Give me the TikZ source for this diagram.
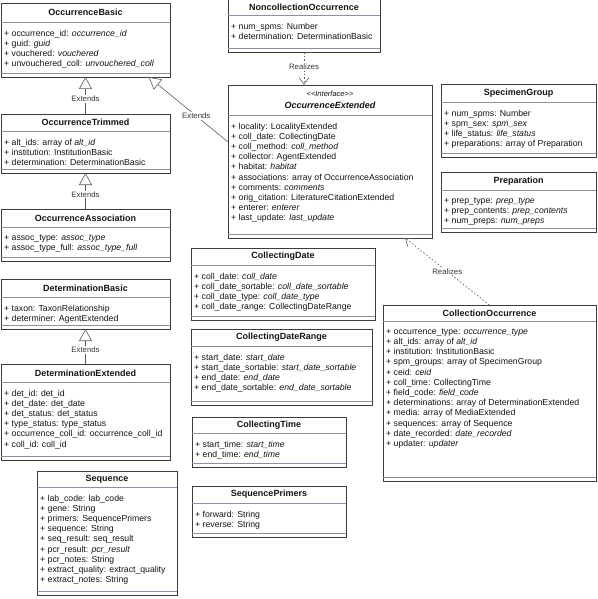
\documentclass[tikz,border=0pt]{standalone}
\usepackage{fontspec}
\setmainfont{Liberation Sans}
\usetikzlibrary{arrows.meta,calc}
\pgfdeclarelayer{background}
\pgfsetlayers{background,main}
\definecolor{umlpurple}{RGB}{224,198,248}
\definecolor{umlborder}{RGB}{60,60,60}
\definecolor{umlsep}{RGB}{150,140,160}
\definecolor{umltext}{RGB}{20,20,20}
\definecolor{umlline}{RGB}{90,90,90}
\definecolor{umlshadow}{RGB}{165,165,165}

% #1 name, #2 x1, #3 y1, #4 x2, #5 y2, #6 title, #7 title height, #8 attributes
\newcommand{\umlbox}[8]{%
  \begin{pgfonlayer}{background}
    \fill[umlshadow] (#2+1.2,#3+1.2) rectangle (#4+1.2,#5+1.2);
    \shade[top color=white,bottom color=umlpurple!70] (#2,#3) rectangle (#4,#3+#7);
    \shade[top color=white,bottom color=umlpurple] (#2,#3+#7) rectangle (#4,#5);
  \end{pgfonlayer}
  \node[classbox, anchor=north west, minimum width={#4-#2}, minimum height={#5-#3}] (#1) at (#2,#3) {};
  \draw[sepline] (#2,#3+#7) -- (#4,#3+#7);
  \draw[sepline] (#2,#5-4) -- (#4,#5-4);
  \node[classtitle] (#1-title) at ({(#2+#4)/2},{#3+#7/2}) {#6};
  \node[classattrs, anchor=north west] (#1-attrs) at (#2+3,#3+#7+7.5) {#8};
}

\begin{document}
\begin{tikzpicture}[x=1pt,y=-1pt,
  classbox/.style={draw=umlborder, line width=0.7pt, inner sep=0pt, outer sep=0pt},
  sepline/.style={draw=umlsep, line width=0.5pt},
  classtitle/.style={font=\fontsize{9}{10}\selectfont\bfseries, text=umltext, inner sep=0pt, align=center},
  classattrs/.style={font=\fontsize{8.7}{10.2}\selectfont, text=umltext, inner sep=0pt, align=left},
  edgelabel/.style={font=\fontsize{7.8}{9}\selectfont, text=umltext!85, fill=white, inner sep=1pt},
  extends/.style={draw=umlline, line width=0.6pt, -{Triangle[length=12pt,width=13pt,fill=white]}},
  realizes/.style={draw=umlline, line width=0.6pt, dash pattern=on 1.6pt off 2pt, -{Straight Barb[length=7pt,width=10pt]}}
]
\useasboundingbox (0,0) rectangle (597,599);
\fill[white] (0,0) rectangle (597,599);

\umlbox{ob}{1}{3}{170}{77}{OccurrenceBasic}{19}{%
+ occurrence\_id: \textit{occurrence\_id}\\
+ guid: \textit{guid}\\
+ vouchered: \textit{vouchered}\\
+ unvouchered\_coll: \textit{unvouchered\_coll}}

\umlbox{otr}{1}{114}{170}{173}{OccurrenceTrimmed}{17}{%
+ alt\_ids: array of \textit{alt\_id}\\
+ institution: InstitutionBasic\\
+ determination: DeterminationBasic}

\umlbox{oa}{1}{209}{170}{261}{OccurrenceAssociation}{18}{%
+ assoc\_type: \textit{assoc\_type}\\
+ assoc\_type\_full: \textit{assoc\_type\_full}}

\umlbox{db}{1}{279}{170}{329}{DeterminationBasic}{18}{%
+ taxon: TaxonRelationship\\
+ determiner: AgentExtended}

\umlbox{de}{1}{364}{170}{460}{DeterminationExtended}{18}{%
+ det\_id: det\_id\\
+ det\_date: det\_date\\
+ det\_status: det\_status\\
+ type\_status: type\_status\\
+ occurrence\_coll\_id: occurrence\_coll\_id\\
+ coll\_id: coll\_id}

\umlbox{seq}{37}{471}{177}{595}{Sequence}{16}{%
+ lab\_code: lab\_code\\
+ gene: String\\
+ primers: SequencePrimers\\
+ sequence: String\\
+ seq\_result: seq\_result\\
+ pcr\_result: \textit{pcr\_result}\\
+ pcr\_notes: String\\
+ extract\_quality: extract\_quality\\
+ extract\_notes: String}

\umlbox{nco}{228}{-1}{380}{52}{NoncollectionOccurrence}{16}{%
+ num\_spms: Number\\
+ determination: DeterminationBasic}

\umlbox{oe}{228}{85}{432}{238}{{\mdseries\itshape\fontsize{7.5}{9}\selectfont <{}<Interface>{}>}\\[2pt]{\itshape OccurrenceExtended}}{30}{%
+ locality: LocalityExtended\\
+ coll\_date: CollectingDate\\
+ coll\_method: \textit{coll\_method}\\
+ collector: AgentExtended\\
+ habitat: \textit{habitat}\\
+ associations: array of OccurrenceAssociation\\
+ comments: \textit{comments}\\
+ orig\_citation: LiteratureCitationExtended\\
+ enterer: \textit{enterer}\\
+ last\_update: \textit{last\_update}}

\umlbox{sg}{441}{84}{596}{157}{SpecimenGroup}{18}{%
+ num\_spms: Number\\
+ spm\_sex: \textit{spm\_sex}\\
+ life\_status: \textit{life\_status}\\
+ preparations: array of Preparation}

\umlbox{prep}{441}{172}{596}{232}{Preparation}{18}{%
+ prep\_type: \textit{prep\_type}\\
+ prep\_contents: \textit{prep\_contents}\\
+ num\_preps: \textit{num\_preps}}

\umlbox{cd}{191}{248}{375}{320}{CollectingDate}{17}{%
+ coll\_date: \textit{coll\_date}\\
+ coll\_date\_sortable: \textit{coll\_date\_sortable}\\
+ coll\_date\_type: \textit{coll\_date\_type}\\
+ coll\_date\_range: CollectingDateRange}

\umlbox{cdr}{191}{329}{372}{405}{CollectingDateRange}{17}{%
+ start\_date: \textit{start\_date}\\
+ start\_date\_sortable: \textit{start\_date\_sortable}\\
+ end\_date: \textit{end\_date}\\
+ end\_date\_sortable: \textit{end\_date\_sortable}}

\umlbox{ct}{192}{417}{346}{467}{CollectingTime}{16}{%
+ start\_time: \textit{start\_time}\\
+ end\_time: \textit{end\_time}}

\umlbox{sp}{192}{486}{346}{537}{SequencePrimers}{17}{%
+ forward: String\\
+ reverse: String}

\umlbox{co}{383}{305}{596}{481}{CollectionOccurrence}{16}{%
+ occurrence\_type: \textit{occurrence\_type}\\
+ alt\_ids: array of \textit{alt\_id}\\
+ institution: InstitutionBasic\\
+ spm\_groups: array of SpecimenGroup\\
+ ceid: \textit{ceid}\\
+ coll\_time: CollectingTime\\
+ field\_code: \textit{field\_code}\\
+ determinations: array of DeterminationExtended\\
+ media: array of MediaExtended\\
+ sequences: array of Sequence\\
+ date\_recorded: \textit{date\_recorded}\\
+ updater: \textit{updater}}

% connectors
\draw[extends] (otr.north) -- node[edgelabel,pos=0.4] (l1) {Extends} (ob.south);
\draw[extends] (oa.north) -- node[edgelabel,pos=0.4] (l2) {Extends} (otr.south);
\draw[extends] (de.north) -- node[edgelabel,pos=0.4] (l3) {Extends} (db.south);
\draw[extends] ($(oe.north west)+(0,57)$) -- node[edgelabel,pos=0.4] (l4) {Extends} ($(ob.south west)!0.874!(ob.south east)$);
\draw[realizes] (nco.south) -- node[edgelabel,pos=0.45] (l5) {Realizes} (nco.south |- oe.north);
\draw[realizes] (co.north) -- node[edgelabel,pos=0.5] (l6) {Realizes} ($(oe.south west)+(177,0)$);
\end{tikzpicture}
\end{document}
